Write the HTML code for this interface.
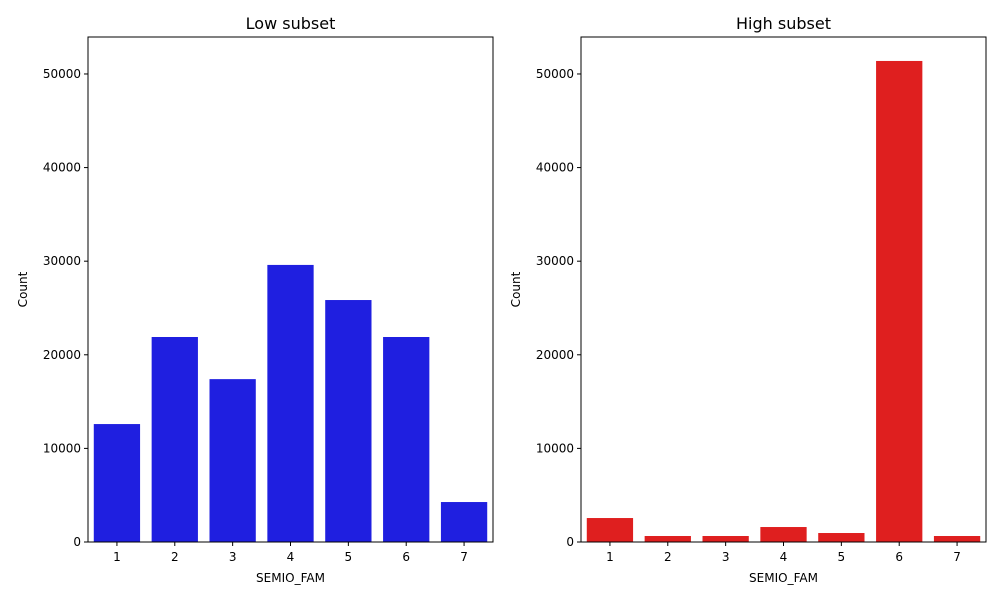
<!DOCTYPE html>
<html><head><meta charset="utf-8"><style>
body{margin:0;background:#fff;font-family:"Liberation Sans","DejaVu Sans",sans-serif;}
svg text{font-family:"DejaVu Sans","Liberation Sans",sans-serif;}
</style></head><body>
<svg id="c" width="1000" height="600" xmlns="http://www.w3.org/2000/svg"></svg>
<script>
const categories = ["1","2","3","4","5","6","7"];
const lowValues = [12600, 21900, 17400, 29600, 25850, 21900, 4270];
const highValues = [2560, 640, 640, 1600, 960, 51390, 640];
const yTicks = [0, 10000, 20000, 30000, 40000, 50000];
const yMax = 53950;
const svg = document.getElementById('c');
const NS = 'http://www.w3.org/2000/svg';
function mk(tag, attrs, parent){const e=document.createElementNS(NS,tag);for(const k in attrs)e.setAttribute(k,attrs[k]);(parent||svg).appendChild(e);return e;}
function panel(x0, title, values, color, key){
  const x1 = x0+405, yTop = 37, yBot = 542;
  const g = mk('g',{});
  
  
  const yS = v => yBot - (v/yMax)*(yBot-yTop);
  const band = (x1-x0)/categories.length;
  const xS = i => x0 + band*(i+0.5);
  values.forEach((v,i)=>{
    const r = mk('rect',{x:xS(i)-band*0.4,y:yS(v),width:band*0.8,height:yBot-yS(v),fill:color},g);
    
    
  });
  const frame = mk('rect',{x:x0,y:yTop,width:x1-x0,height:yBot-yTop,fill:'none',stroke:'#000','stroke-width':1},g);
  
  
  yTicks.forEach(t=>{
    const y=yS(t);
    mk('line',{x1:x0-4,x2:x0,y1:y,y2:y,stroke:'#000'},g);
    const tx=mk('text',{x:x0-7,y:y+4,'text-anchor':'end','font-size':12},g);
    tx.textContent=t;
    
    
  });
  categories.forEach((c,i)=>{
    const x=xS(i);
    mk('line',{x1:x,x2:x,y1:yBot,y2:yBot+4,stroke:'#000'},g);
    const tx=mk('text',{x:x,y:yBot+19,'text-anchor':'middle','font-size':12},g);
    tx.textContent=c;
    
    
  });
  const xt=mk('text',{x:(x0+x1)/2,y:582,'text-anchor':'middle','font-size':12},g);
  xt.textContent='SEMIO_FAM';
  
  
  const yt=mk('text',{x:0,y:0,'text-anchor':'middle','font-size':12,transform:`translate(${x0-61},${(yTop+yBot)/2}) rotate(-90)`},g);
  yt.textContent='Count';
  
  
  const tt=mk('text',{x:(x0+x1)/2,y:29,'text-anchor':'middle','font-size':16},g);
  tt.textContent=title;
  
  
}
panel(88,'Low subset',lowValues,'#1f1fe0','low');
panel(581,'High subset',highValues,'#df1f1f','high');
</script>
</body></html>
